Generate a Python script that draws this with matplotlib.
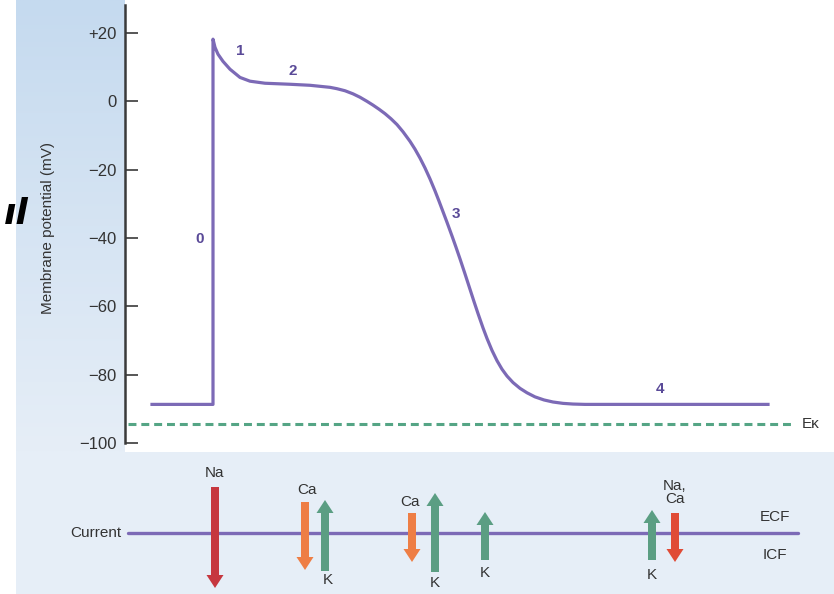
import numpy as np
import matplotlib
matplotlib.use("Agg")
import matplotlib.pyplot as plt
from matplotlib.patches import FancyArrow
from matplotlib.colors import LinearSegmentedColormap

plt.rcParams['font.family'] = ['Liberation Sans', 'DejaVu Sans']

# action potential trace (time in ms, membrane potential in mV)
t_ms = [13.5, 44, 44, 45, 46.5, 49, 52.5, 57.5, 62.5, 70, 82.5, 92.5, 102.5, 106,
        110, 114, 117.5, 121, 124, 127, 130, 133, 136, 139, 142.5, 145, 147.5, 150,
        152.5, 155, 157, 159, 161, 163.5, 165.5, 167.5, 170, 172.5, 174.5, 176.5,
        179, 181, 183.5, 186, 188.5, 191, 194, 197.5, 201, 205, 209.5, 214, 219,
        224, 230, 321.5]
v_mv = [-88.7, -88.7, 18.2, 15.8, 13.8, 11.7, 9.4, 7.0, 5.9, 5.3, 5.0, 4.7, 4.1, 3.7,
        3.1, 2.2, 1.2, 0.0, -1.1, -2.3, -3.6, -5.1, -6.8, -8.9, -11.7, -14.0, -16.6,
        -19.5, -22.7, -26.2, -29.2, -32.3, -35.4, -39.4, -42.7, -46.1, -50.5, -55.0,
        -58.6, -62.1, -66.3, -69.4, -72.9, -75.9, -78.4, -80.4, -82.3, -84.0, -85.3,
        -86.5, -87.4, -88.0, -88.4, -88.6, -88.7, -88.7]

ek_mv = -94.3
ek_span = [1.5, 335]

phase_labels = ["0", "1", "2", "3", "4"]
phase_t = [37.5, 57.5, 84, 165.5, 267.5]
phase_v = [-40.4, 14.6, 8.8, -33.1, -84.3]

yticks = [-100, -80, -60, -40, -20, 0, 20]
ytick_labels = ["\u2212100", "\u221280", "\u221260", "\u221240", "\u221220", "0", "+20"]

# ionic currents: time, start, end (arbitrary units, + = outward), ion
cur_t = [45, 90, 100, 143.5, 155, 180, 263.5, 275]
cur_start = [46, 31, -38, 20, -39, -27, -27, 20]
cur_end = [-55, -37, 33, -29, 40, 21, 23, -29]
cur_ion = ["Na", "Ca", "K", "Ca", "K", "K", "K", "NaCa"]
ion_colors = {"Na": "#c6373f", "Ca": "#ee7e45", "K": "#5b9e83", "NaCa": "#e04b36"}

ion_text = ["Na", "Ca", "K", "Ca", "K", "K", "K", "Na,\nCa"]
ion_text_t = [45, 91, 101.5, 142.5, 155, 180, 263.5, 275]
ion_text_y = [60, 43, -47, 31, -50, -40, -42, 40.5]

W, H = 834, 594
fig = plt.figure(figsize=(W / 100, H / 100), dpi=100)

purple = "#7c6ab6"
dark_purple = "#5a4a98"

# left blue panel
ax_bg = fig.add_axes([16 / W, 1 - 452 / H, 109 / W, 452 / H])
grad = np.linspace(0, 1, 200).reshape(-1, 1)
cmap = LinearSegmentedColormap.from_list("bg", ["#c5daef", "#e6eef7"])
ax_bg.imshow(grad, aspect="auto", cmap=cmap, extent=[0, 1, 0, 1])
ax_bg.axis("off")

# bottom panel
ax_cur = fig.add_axes([16 / W, 0, 818 / W, 142 / H])
ax_cur.set_facecolor("#e6eef7")
ax_cur.set_xlim(-54.5, 354.5)
ax_cur.set_ylim(-61, 81)
for s in ax_cur.spines.values():
    s.set_visible(False)
ax_cur.set_xticks([])
ax_cur.set_yticks([])

ax_cur.plot([1.5, 336.5], [0, 0], color=purple, lw=2.4, solid_capstyle="round", zorder=2)
for t, y0, y1, ion in zip(cur_t, cur_start, cur_end, cur_ion):
    arr = FancyArrow(t, y0, 0, y1 - y0, width=4, head_width=8.5, head_length=13,
                     length_includes_head=True, color=ion_colors[ion], lw=0, zorder=3)
    ax_cur.add_patch(arr)
for txt, t, y in zip(ion_text, ion_text_t, ion_text_y):
    ax_cur.text(t, y, txt, ha="center", va="center", fontsize=11, color="#333333",
                linespacing=0.95)
ax_cur.text(-2, 0, "Current", ha="right", va="center", fontsize=11, color="#333333")
ax_cur.text(325, 16, "ECF", ha="center", va="center", fontsize=11, color="#333333")
ax_cur.text(325, -22, "ICF", ha="center", va="center", fontsize=11, color="#333333")

# main membrane potential axes
ax = fig.add_axes([125 / W, 1 - 443 / H, 709 / W, 438 / H])
ax.patch.set_alpha(0)
ax.set_xlim(0, 354.5)
ax.set_ylim(-100, 28.2)
for side in ["top", "right", "bottom"]:
    ax.spines[side].set_visible(False)
ax.spines["left"].set_linewidth(1.8)
ax.spines["left"].set_color("#3a3a3a")
ax.set_xticks([])
ax.set_yticks(yticks)
ax.set_yticklabels(ytick_labels)
ax.tick_params(axis="y", direction="in", length=9, width=1.2, color="#3a3a3a",
               labelsize=12, pad=6, labelcolor="#333333")

ax.plot(t_ms, v_mv, color=purple, lw=2.3, solid_joinstyle="round", clip_on=False)
ax.plot(ek_span, [ek_mv, ek_mv], color="#55a585", lw=2.2, dashes=(2.6, 1.6))
ax.text(338.5, ek_mv, "E\u03ba", ha="left", va="center", fontsize=11, color="#333333")
for lab, t, v in zip(phase_labels, phase_t, phase_v):
    ax.text(t, v, lab, ha="center", va="center", fontsize=11, fontweight="bold",
            color=dark_purple)

fig.text(48 / W, 1 - 228 / H, "Membrane potential (mV)", rotation=90, ha="center",
         va="center", fontsize=11, color="#333333")

# cropped heading fragment on the left edge
fig.text(29 / W, 1 - 214 / H, "\u0131l", ha="right", va="center", fontsize=26,
         fontweight="bold", style="italic", color="black", family="DejaVu Sans")

fig.savefig("out.png", dpi=100, facecolor="white")
